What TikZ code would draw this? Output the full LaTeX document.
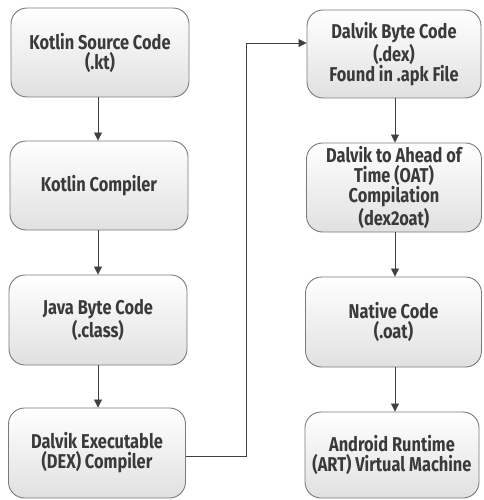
\documentclass[tikz,border=0pt]{standalone}
\usepackage{fontspec}
\setmainfont[FakeStretch=0.82]{Fira Sans}
\usetikzlibrary{arrows.meta,calc}
\definecolor{boxline}{HTML}{7A7A7A}
\definecolor{txt}{HTML}{3A3A3A}
\definecolor{arr}{HTML}{404040}
\tikzset{
  flowbox/.style={draw=boxline, line width=0.9pt, rounded corners=16pt,
    top color=white, bottom color=black!12, align=center,
    font=\bfseries\fontsize{20}{20}\selectfont, text=txt, inner sep=0pt},
  flowarrow/.style={draw=arr, line width=0.8pt, -{Triangle[length=8pt,width=8pt]}}
}
\begin{document}
\begin{tikzpicture}[x=1pt,y=-1pt]
\useasboundingbox (0,0) rectangle (483,500);
\node[flowbox, minimum width=178pt, minimum height=89pt] (l1) at (100,52.5) {Kotlin Source Code\\(.kt)};
\node[flowbox, minimum width=178pt, minimum height=89pt] (l2) at (99,185.5) {Kotlin Compiler};
\node[flowbox, minimum width=178pt, minimum height=90pt] (l3) at (98,320) {Java Byte Code\\(.class)};
\node[flowbox, minimum width=177pt, minimum height=90pt] (l4) at (97,453) {Dalvik Executable\\(DEX) Compiler};
\node[flowbox, minimum width=174pt, minimum height=88pt] (r1) at (394,54) {Dalvik Byte Code\\(.dex)\\Found in .apk File};
\node[flowbox, minimum width=175pt, minimum height=89pt] (r2) at (394,187.5) {Dalvik to Ahead of\\Time (OAT)\\Compilation\\(dex2oat)};
\node[flowbox, minimum width=176pt, minimum height=90pt] (r3) at (393.5,322) {Native Code\\(.oat)};
\node[flowbox, minimum width=174pt, minimum height=86pt] (r4) at (392,455) {Android Runtime\\(ART) Virtual Machine};
\draw[flowarrow] (l1.south -| 98,0) -- (l2.north -| 98,0);
\draw[flowarrow] (l2.south -| 98,0) -- (l3.north -| 98,0);
\draw[flowarrow] (l3.south -| 98,0) -- (l4.north -| 98,0);
\draw[flowarrow] (r1.south -| 395,0) -- (r2.north -| 395,0);
\draw[flowarrow] (r2.south -| 395,0) -- (r3.north -| 395,0);
\draw[flowarrow] (r3.south -| 395,0) -- (r4.north -| 395,0);
\coordinate (bendlow) at (246,456);
\coordinate (bendhigh) at (246,43);
\draw[flowarrow] (l4.east |- bendlow) -- (bendlow) -- (bendhigh) -- (r1.west |- bendhigh);
\end{tikzpicture}
\end{document}
